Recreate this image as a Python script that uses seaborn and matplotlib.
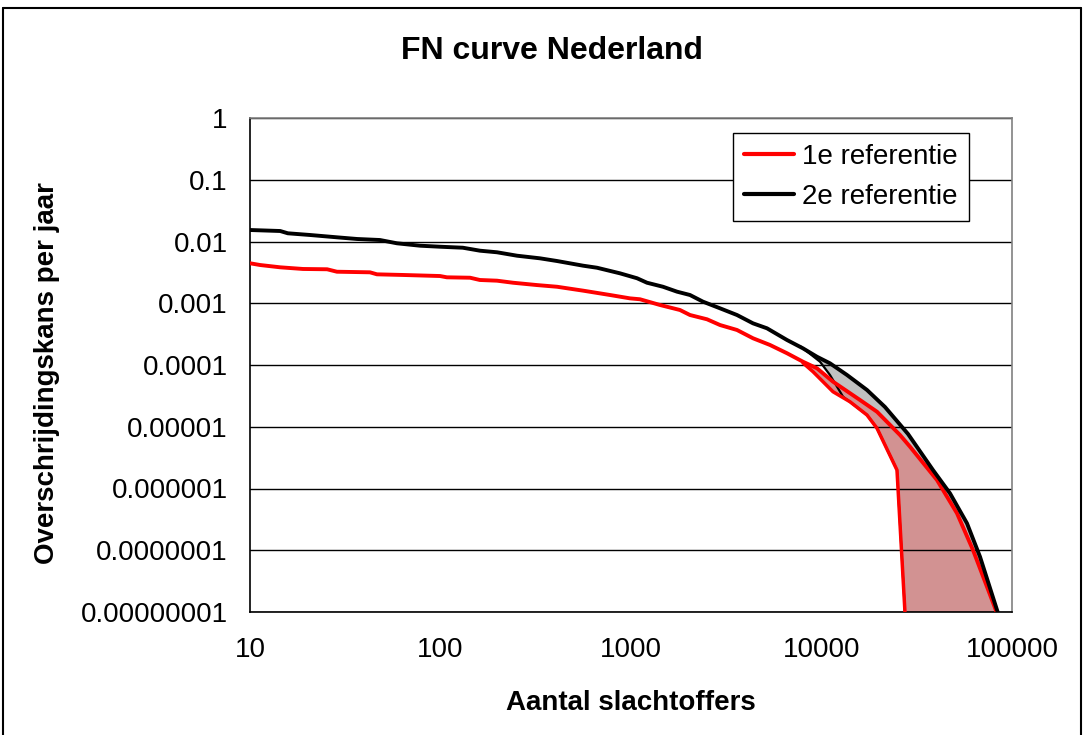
import numpy as np
import pandas as pd
import matplotlib
matplotlib.use("Agg")
import matplotlib.pyplot as plt
from matplotlib.lines import Line2D
import seaborn as sns

# ---------------- data ----------------
# 1e referentie (red) : number of victims N and exceedance probability P
N1 = [10, 11.3, 14.4, 18.97, 25.4, 28.6, 42.6, 46.4, 63.6, 99.4,
      108, 143, 161, 198, 240, 321, 409, 560, 776, 988,
      1115, 1420, 1808, 2040, 2506, 2933, 3601, 4369, 5366, 6590,
      7995, 9471, 11490, 15930, 19560, 25830, 29150, 40400, 51430, 62410,
      83420]
P1 = [0.00444, 0.00416, 0.00382, 0.00359, 0.00355, 0.00324, 0.00317, 0.00294, 0.00287, 0.00276,
      0.00263, 0.00259, 0.00238, 0.00232, 0.00215, 0.00197, 0.00185, 0.0016, 0.00136, 0.0012,
      0.00116, 0.000937, 0.000777, 0.000645, 0.00055, 0.000444, 0.000369, 0.000271, 0.000211, 0.000155,
      0.000113, 8.84e-5, 5.37e-5, 2.71e-5, 1.75e-5, 7.35e-6, 4.75e-6, 1.37e-6, 3.97e-7, 1.01e-7,
      9.6e-9]

# 2e referentie (black)
N2 = [10, 14.4, 15.8, 20.7, 28.6, 36.5, 48.1, 59.1, 78.1, 99.4,
      131, 161, 198, 252, 333, 409, 560, 663, 876, 1076,
      1213, 1472, 1744, 2040, 2388, 2933, 3601, 4369, 5174, 6590,
      7995, 9471, 11080, 13610, 17330, 21540, 28460, 38480, 47250, 58040,
      67920, 84430]
P2 = [0.01535, 0.01479, 0.01358, 0.01274, 0.01169, 0.01098, 0.01057, 0.00935, 0.00855, 0.00823,
      0.00793, 0.0071, 0.00669, 0.00589, 0.00534, 0.00483, 0.00406, 0.00376, 0.00305, 0.00254,
      0.00215, 0.00185, 0.00154, 0.00136, 0.00106, 0.000828, 0.000645, 0.000473, 0.000393, 0.000254,
      0.000186, 0.000136, 0.0001065, 6.89e-5, 3.94e-5, 2.09e-5, 7.63e-6, 1.99e-6, 8.36e-7, 2.73e-7,
      7.86e-8, 9.6e-9]

# lower bounds of the uncertainty bands
N1_low = [7995, 9025, 11490, 14110, 17330, 19560, 24900, 27440]
P1_low = [1.08e-4, 7.79e-5, 3.69e-5, 2.54e-5, 1.55e-5, 9.44e-6, 1.99e-6, 9.6e-9]
N2_low = [7711, 9820, 11080, 12970, 17330, 19560, 24900, 27440]
P2_low = [2.03e-4, 1.13e-4, 6.89e-5, 3.07e-5, 1.55e-5, 9.44e-6, 1.99e-6, 9.6e-9]

series_labels = ["1e referentie", "2e referentie"]
x_ticks = [10, 100, 1000, 10000, 100000]
x_tick_labels = ["10", "100", "1000", "10000", "100000"]
y_ticks = [1, 0.1, 0.01, 0.001, 0.0001, 1e-5, 1e-6, 1e-7, 1e-8]
y_tick_labels = ["1", "0.1", "0.01", "0.001", "0.0001", "0.00001",
                 "0.000001", "0.0000001", "0.00000001"]
title = "FN curve Nederland"
x_label = "Aantal slachtoffers"
y_label = "Overschrijdingskans per jaar"

# ---------------- style ----------------
sns.set_theme(style="white")
plt.rcParams["font.family"] = ["Liberation Sans", "DejaVu Sans"]
plt.rcParams["text.color"] = "black"

W, H = 1084, 735
fig = plt.figure(figsize=(W / 100, H / 100), dpi=100)
fig.patch.set_facecolor("white")
ax = fig.add_axes([250 / W, 1 - 612 / H, (1012 - 250) / W, (612 - 118) / H])
ax.set_xscale("log")
ax.set_yscale("log")
ax.set_xlim(10, 100000)
ax.set_ylim(1e-8, 1)

RED = "#FF0000"
BLACK = "#000000"

df1 = pd.DataFrame({"N": N1, "P": P1})
df2 = pd.DataFrame({"N": N2, "P": P2})

# bands
N2a, P2a = np.array(N2), np.array(P2)
m2 = N2a > 7700
ax.fill(np.r_[N2a[m2], np.array(N2_low)[::-1]], np.r_[P2a[m2], np.array(P2_low)[::-1]],
        color="#C0C0C0", lw=0, zorder=0.2)
N1a, P1a = np.array(N1), np.array(P1)
m1 = N1a >= 7995
ax.fill(np.r_[N1a[m1], np.array(N1_low)[::-1]], np.r_[P1a[m1], np.array(P1_low)[::-1]],
        color="#D29292", lw=0, zorder=0.3)

# band lower lines
ax.plot(N2_low, P2_low, color=BLACK, lw=1.6, zorder=3)
ax.plot(N1_low, P1_low, color=RED, lw=2.5, zorder=3.1)

sns.lineplot(data=df2, x="N", y="P", ax=ax, color=BLACK, lw=2.8, sort=False,
             estimator=None, zorder=3.3)
sns.lineplot(data=df1, x="N", y="P", ax=ax, color=RED, lw=2.8, sort=False,
             estimator=None, zorder=3.2)

ax.set_xlim(10, 100000)
ax.set_ylim(1e-8, 1)
ax.set_xticks(x_ticks)
ax.set_xticklabels(x_tick_labels)
ax.set_yticks(y_ticks)
ax.set_yticklabels(y_tick_labels)
ax.minorticks_off()
ax.set_xlabel("")
ax.set_ylabel("")

ax.yaxis.grid(True, color="black", lw=1.0)
ax.xaxis.grid(False)
ax.set_axisbelow(True)
ax.tick_params(axis="both", which="major", direction="out", length=6, width=1,
               color="black", labelsize=20, labelcolor="black")
ax.tick_params(axis="x", pad=12)
ax.tick_params(axis="y", pad=10)
for s in ["left", "bottom"]:
    ax.spines[s].set_color("black")
    ax.spines[s].set_linewidth(1.2)
for s in ["top", "right"]:
    ax.spines[s].set_color("#808080")
    ax.spines[s].set_linewidth(1.2)

handles = [Line2D([0], [0], color=RED, lw=3), Line2D([0], [0], color=BLACK, lw=3)]
leg = ax.legend(handles, series_labels, loc="upper left",
                bbox_to_anchor=((733 - 250) / (1012 - 250), 1 - (133 - 118) / (612 - 118)),
                fontsize=20, frameon=True, fancybox=False, shadow=False,
                handlelength=1.8, handletextpad=0.3, labelspacing=0.5,
                borderpad=0.4, borderaxespad=0)
leg.get_frame().set_edgecolor("black")
leg.get_frame().set_linewidth(1.0)
leg.get_frame().set_facecolor("white")
leg.get_frame().set_alpha(1)
for t in leg.get_texts():
    t.set_color("black")

fig.text(552 / W, 1 - 51 / H, title, ha="center", va="center",
         fontsize=23, fontweight="bold", color="black")
fig.text(631 / W, 1 - 703 / H, x_label, ha="center", va="center",
         fontsize=20, fontweight="bold", color="black")
fig.text(47 / W, 1 - 373 / H, y_label, ha="center", va="center",
         rotation=90, fontsize=20, fontweight="bold", color="black")

# outer chart border
fig.add_artist(Line2D([3 / W, 3 / W], [0, 1 - 8 / H], transform=fig.transFigure, color="black", lw=1.5))
fig.add_artist(Line2D([3 / W, 1081 / W], [1 - 8 / H, 1 - 8 / H], transform=fig.transFigure, color="black", lw=1.5))
fig.add_artist(Line2D([1081 / W, 1081 / W], [0, 1 - 8 / H], transform=fig.transFigure, color="black", lw=1.5))

fig.savefig("out.png", dpi=100, facecolor="white")
